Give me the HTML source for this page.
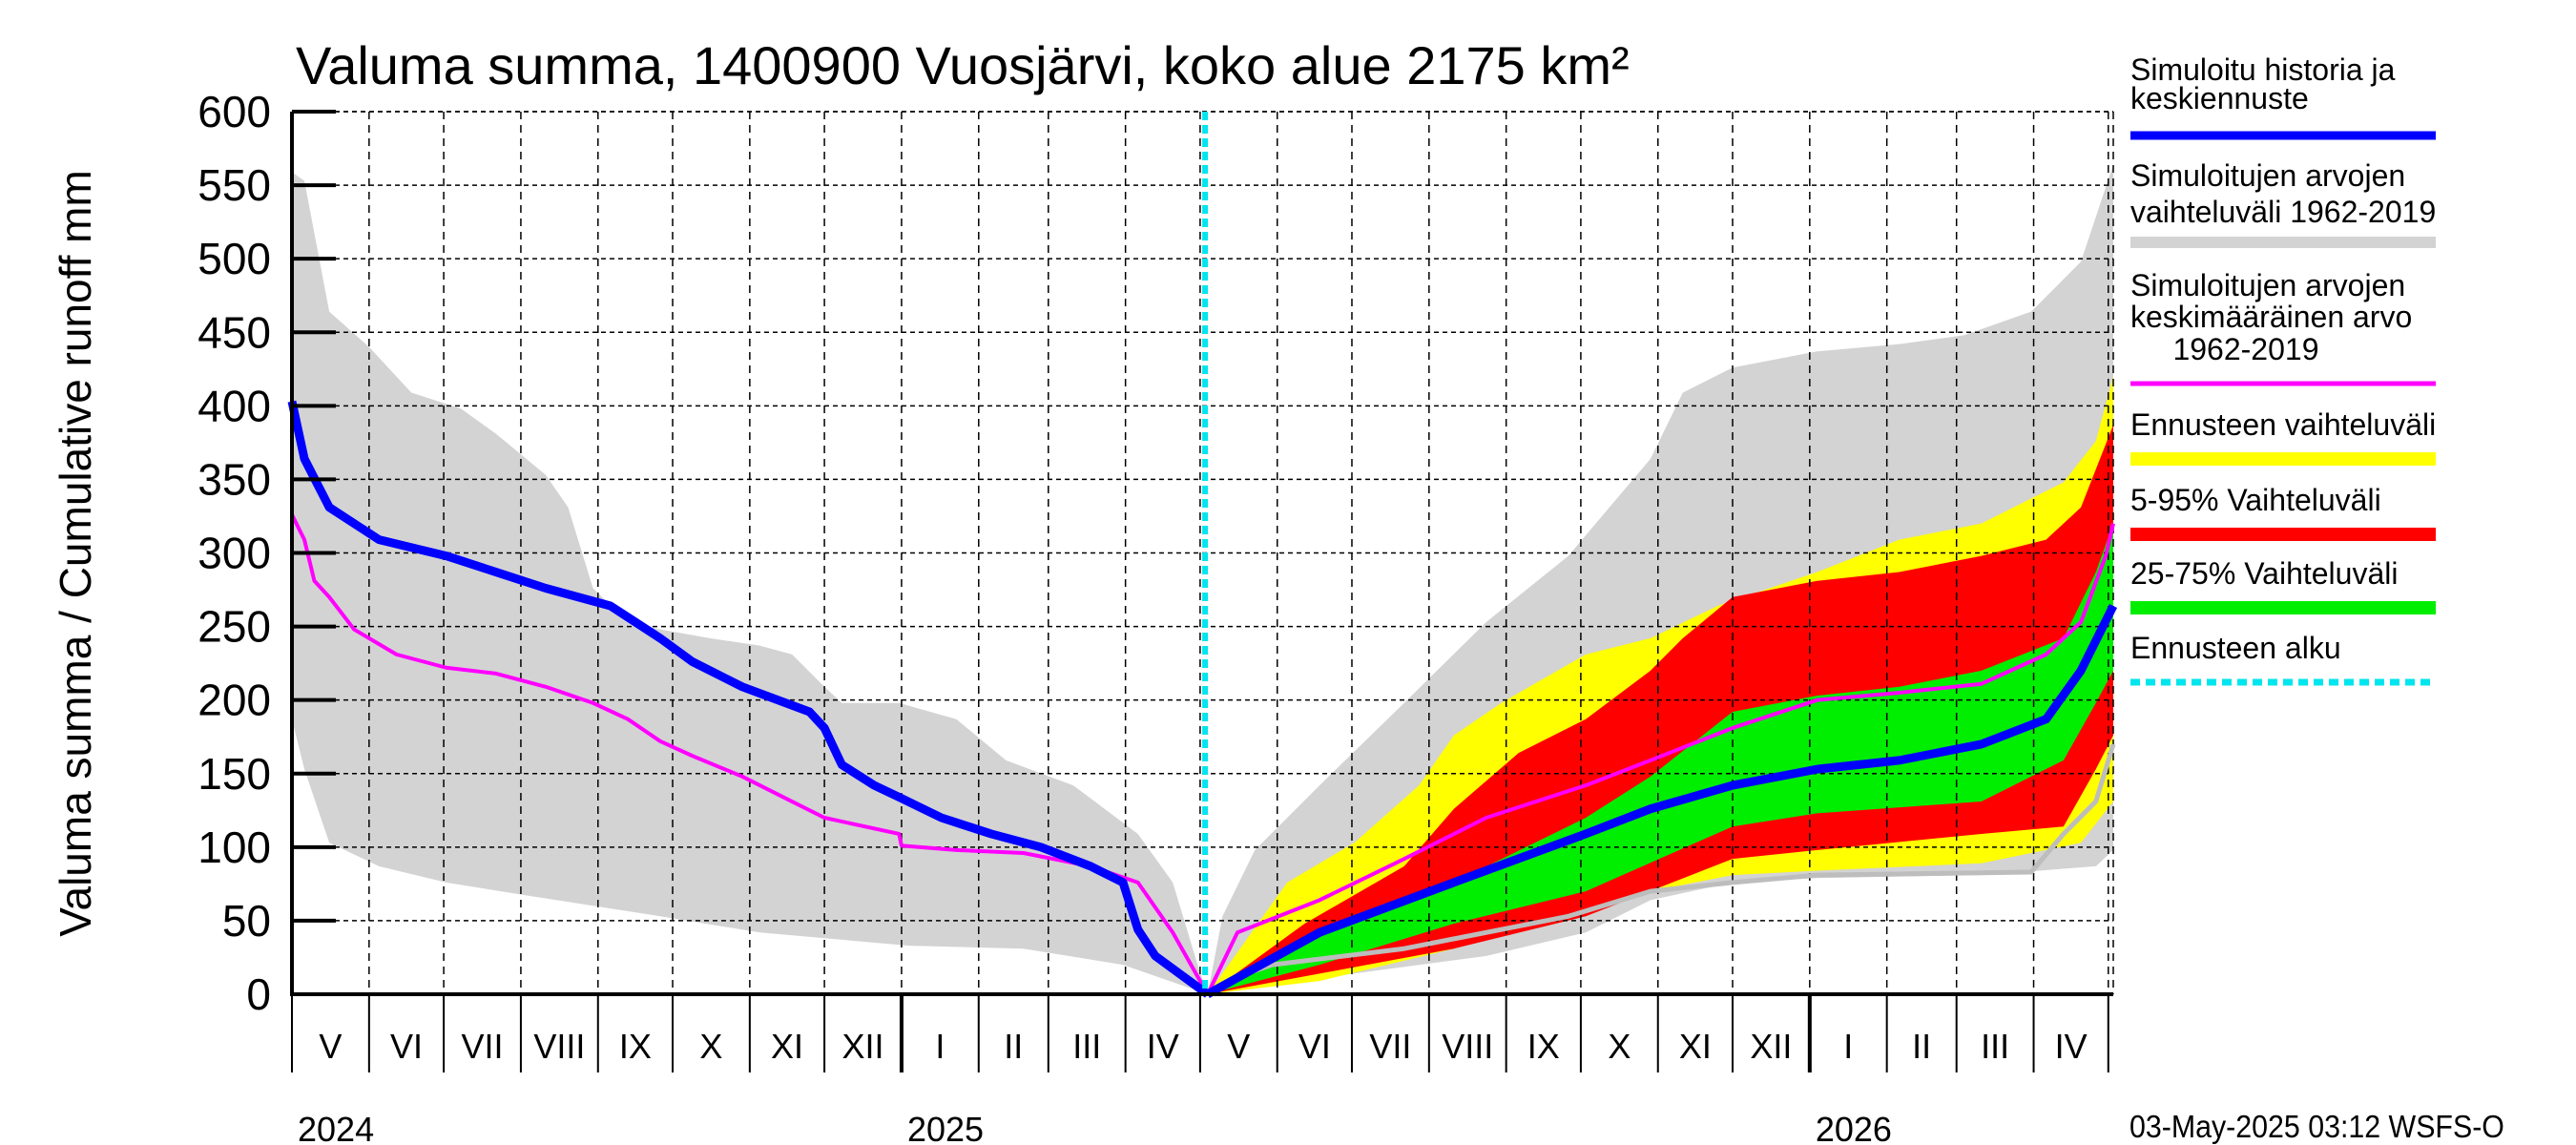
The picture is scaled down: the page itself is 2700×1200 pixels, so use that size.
<!DOCTYPE html>
<html><head><meta charset="utf-8">
<style>
body{margin:0;background:#fff;}
svg{display:block;font-family:"Liberation Sans Narrow","Liberation Sans",sans-serif;}
</style></head>
<body>
<svg id="chart" width="2700" height="1200" viewBox="0 0 2700 1200">
<text x="310" y="88" font-size="56">Valuma summa, 1400900 Vuosjärvi, koko alue 2175 km²</text>
<text transform="translate(95,580) rotate(-90)" font-size="46" text-anchor="middle">Valuma summa / Cumulative runoff    mm</text>
<g id="bands"></g><g id="grid"></g><g id="lines"></g><g id="axes"></g><g id="legend"></g>
<text x="2232" y="1192" font-size="33" transform="translate(2232,0) scale(0.92,1) translate(-2232,0)">03-May-2025 03:12 WSFS-O</text>
</svg>
<script>
const NS="http://www.w3.org/2000/svg";
// data: [day since 2024-05-01, mm]
const histRangeUpper=[[0,559],[5,553],[15,464],[31,440],[48,409],[68,398],[82,381],[102,353],[111,331],[121,276],[135,253],[148,248],[168,242],[188,237],[201,231],[214,209],[221,198],[244,198],[267,187],[287,159],[314,142],[340,109],[354,76],[364,20],[368,0]];
const histRangeLower=[[0,187],[5,153],[15,103],[35,87],[62,76],[95,67],[148,53],[188,42],[248,33],[294,31],[334,20],[368,0]];
const histMean=[[0,326],[5,309],[9,281],[15,270],[25,248],[42,231],[62,222],[82,218],[102,209],[121,198],[135,187],[148,172],[161,162],[181,148],[201,131],[214,120],[244,109],[245,101],[267,98],[294,96],[321,87],[340,76],[354,42],[368,0]];
const histSim=[[0,403],[5,364],[15,331],[35,309],[62,298],[82,287],[102,276],[128,264],[138,253],[148,242],[161,226],[181,209],[208,192],[214,181],[221,156],[234,142],[244,134],[261,120],[281,109],[301,100],[321,87],[334,76],[340,44],[347,26],[368,0]];
const fcRangeUpper=[[368,0],[374,53],[387,98],[413,142],[447,198],[480,253],[513,298],[546,364],[559,409],[579,426],[613,437],[646,442],[672,448],[699,464],[719,498],[732,564]];
const fcRangeLower=[[368,0],[413,11],[480,26],[520,42],[546,64],[579,76],[613,79],[679,81],[725,87],[732,98]];
const yellowUpper=[[368,0],[400,76],[427,103],[453,142],[467,176],[486,198],[520,231],[546,242],[573,264],[613,287],[646,309],[679,320],[712,348],[725,376],[732,420]];
const yellowLower=[[368,0],[413,9],[467,31],[513,53],[546,70],[579,81],[613,84],[679,89],[719,103],[732,131]];
const redUpper=[[368,0],[407,48],[447,87],[467,126],[493,164],[520,187],[546,220],[559,242],[579,270],[613,281],[646,287],[679,298],[705,309],[719,331],[732,387]];
const redLower=[[368,0],[413,14],[467,31],[520,53],[579,92],[613,98],[679,109],[712,114],[725,153],[732,176]];
const greenUpper=[[368,0],[413,42],[467,76],[520,120],[546,148],[579,192],[613,203],[646,209],[679,220],[712,242],[725,287],[732,320]];
const greenLower=[[368,0],[413,20],[467,48],[520,70],[579,114],[613,123],[679,131],[712,159],[725,198],[732,220]];
const fcMedian=[[368,0],[413,42],[467,76],[520,109],[546,126],[579,142],[613,153],[646,159],[679,170],[705,187],[719,220],[732,264]];
const fcMean=[[368,0],[380,42],[413,64],[447,92],[480,120],[520,142],[546,159],[579,181],[613,200],[646,205],[679,211],[705,231],[719,253],[729,298],[732,320]];
const fcLowLine=[[380,12],[394,20],[447,31],[513,53],[546,70],[579,76],[613,81],[699,83],[712,109],[725,131],[732,170]];
const yTicks=[0,50,100,150,200,250,300,350,400,450,500,550,600];
const monthStarts=[0,31,61,92,123,153,184,214,245,276,304,335,365,396,426,457,488,518,549,579,610,641,669,700,730];
const monthLabels=["V","VI","VII","VIII","IX","X","XI","XII","I","II","III","IV","V","VI","VII","VIII","IX","X","XI","XII","I","II","III","IV"];
const yearLabels=["2024","2025","2026"];
const yearDays=[0,245,610];
const forecastDay=367;

const L=306,R=2215,T=117,B=1042,XMAX=732,YMAX=600;
const sx=d=>L+d*(R-L)/XMAX, sy=v=>B-v*(B-T)/YMAX;
function mk(tag,attrs,parent){const e=document.createElementNS(NS,tag);for(const k in attrs)e.setAttribute(k,attrs[k]);parent.appendChild(e);return e;}
const bands=document.getElementById('bands'),grid=document.getElementById('grid'),lines=document.getElementById('lines'),axes=document.getElementById('axes'),legend=document.getElementById('legend');
function band(up,lo,color,name){
  const pts=up.map(p=>sx(p[0])+','+sy(p[1])).concat(lo.slice().reverse().map(p=>sx(p[0])+','+sy(p[1])));
  const e=mk('polygon',{points:pts.join(' '),fill:color},bands);
  
  
}
function line(data,color,w,name){
  const e=mk('polyline',{points:data.map(p=>sx(p[0])+','+sy(p[1])).join(' '),fill:'none',stroke:color,'stroke-width':w,'stroke-linejoin':'round'},lines);
  
  
}
band(histRangeUpper,histRangeLower,'#d3d3d3','history-range-band');
band(fcRangeUpper,fcRangeLower,'#d3d3d3','forecast-history-range-band');
band(yellowUpper,yellowLower,'#ffff00','forecast-range-band');
band(redUpper,redLower,'#ff0000','forecast-5-95-band');
band(greenUpper,greenLower,'#00ee00','forecast-25-75-band');
yTicks.forEach(v=>{
  if(v>0){const g=mk('line',{x1:L,x2:R,y1:sy(v),y2:sy(v),stroke:'#000','stroke-width':1.5,'stroke-dasharray':'5,4'},grid);
  
  }
  const t=mk('line',{x1:L,x2:L+46,y1:sy(v),y2:sy(v),stroke:'#000','stroke-width':4},axes);
  
  
  const lb=mk('text',{x:L-22,y:sy(v)+16,'font-size':46,'text-anchor':'end'},axes);lb.textContent=v;
  
  
});
monthStarts.forEach((d,i)=>{
  if(d>0&&d<XMAX){const g=mk('line',{x1:sx(d),x2:sx(d),y1:T,y2:B,stroke:'#000','stroke-width':1.5,'stroke-dasharray':'8,6'},grid);
  
  }
  const isYear=yearDays.includes(d)&&d>0;
  const t=mk('line',{x1:sx(d),x2:sx(d),y1:B,y2:B+82,stroke:'#000','stroke-width':isYear?4:2},axes);
  
  
  if(i<monthLabels.length){const nx=monthStarts[i+1]!==undefined?monthStarts[i+1]:XMAX;
    const lb=mk('text',{x:(sx(d)+sx(Math.min(nx,XMAX)))/2,y:B+67,'font-size':36,'text-anchor':'middle'},axes);lb.textContent=monthLabels[i];
    
    }
});
yearLabels.forEach((y,i)=>{const lb=mk('text',{x:sx(yearDays[i])+6,y:B+154,'font-size':36},axes);lb.textContent=y;
  
  });
mk('line',{x1:sx(XMAX),x2:sx(XMAX),y1:T,y2:B,stroke:'#000','stroke-width':1.5,'stroke-dasharray':'8,6'},grid);
mk('line',{x1:L,x2:R,y1:T,y2:T,stroke:'#000','stroke-width':1.5,'stroke-dasharray':'5,4'},grid);
const ax=mk('path',{d:`M${L},${T} V${B} H${R}`,fill:'none',stroke:'#000','stroke-width':4},axes);


line(fcLowLine,'#bdbdbd',5,'forecast-low-line');
line(histMean,'#ff00ff',4,'history-mean-line');
line(fcMean,'#ff00ff',4,'forecast-mean-line');
line(histSim,'#0000ff',9,'simulated-history-line');
line(fcMedian,'#0000ff',9,'forecast-median-line');
const cy=mk('line',{x1:sx(forecastDay),x2:sx(forecastDay),y1:T,y2:B,stroke:'#00e5ee','stroke-width':6,'stroke-dasharray':'9,5'},lines);


const LX=2233,LX2=2553;
const entries=[
 {t:["Simuloitu historia ja","keskiennuste"],ty:[84,114],ly:142,c:'#0000ff',w:9,n:'legend-simulated'},
 {t:["Simuloitujen arvojen","vaihteluväli 1962-2019"],ty:[195,233],ly:254,c:'#d3d3d3',w:12,n:'legend-history-range'},
 {t:["Simuloitujen arvojen","keskimääräinen arvo","\u00a0\u00a0\u00a0\u00a0\u00a01962-2019"],ty:[310,343,377],ly:402,c:'#ff00ff',w:5,n:'legend-mean'},
 {t:["Ennusteen vaihteluväli"],ty:[456],ly:481,c:'#ffff00',w:14,n:'legend-forecast-range'},
 {t:["5-95% Vaihteluväli"],ty:[535],ly:560,c:'#ff0000',w:14,n:'legend-5-95'},
 {t:["25-75% Vaihteluväli"],ty:[612],ly:637,c:'#00ee00',w:14,n:'legend-25-75'},
 {t:["Ennusteen alku"],ty:[690],ly:715,c:'#00e5ee',w:7,n:'legend-forecast-start',dash:'10,6'}
];
entries.forEach(e=>{
  const g=mk('g',{},legend);
  
  
  e.t.forEach((s,i)=>{const tx=mk('text',{x:LX,y:e.ty[i],'font-size':32},g);tx.textContent=s;});
  const a={x1:LX,x2:LX2,y1:e.ly,y2:e.ly,stroke:e.c,'stroke-width':e.w};if(e.dash)a['stroke-dasharray']=e.dash;mk('line',a,g);
});
</script>
</body></html>
